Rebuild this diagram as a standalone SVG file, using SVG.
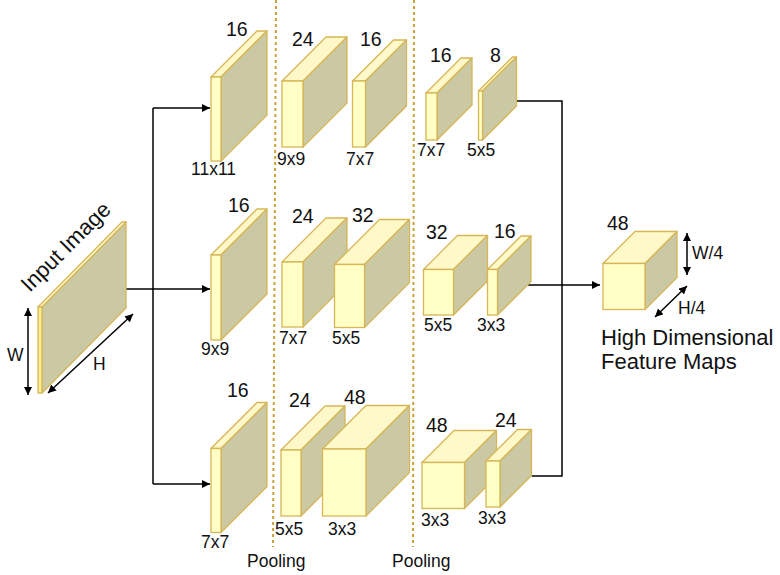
<svg xmlns="http://www.w3.org/2000/svg" width="780" height="575" viewBox="0 0 780 575">
<style>
  .f{fill:#ffffc6;stroke:#d6b656;stroke-width:1.3}
  .t{fill:#fff8c8;stroke:#d6b656;stroke-width:1.3;stroke-linejoin:round}
  .s{fill:#cbc9a3;stroke:#d6b656;stroke-width:1.3;stroke-linejoin:round}
  .n{font-family:"Liberation Sans",Arial,sans-serif;font-size:19.5px;fill:#111}
  .z{font-family:"Liberation Sans",Arial,sans-serif;font-size:17.5px;fill:#111}
  .big{font-family:"Liberation Sans",Arial,sans-serif;font-size:22px;fill:#111}
  .c{fill:none;stroke:#000;stroke-width:1.5}
  .d{fill:none;stroke:#c9a03c;stroke-width:2;stroke-dasharray:3,3}
</style>
<defs>
  <marker id="ah" viewBox="0 0 10 10" refX="10" refY="5" markerWidth="8" markerHeight="8" markerUnits="userSpaceOnUse" orient="auto-start-reverse">
    <path d="M0,0 L10,5 L0,10 z" fill="#000"/>
  </marker>
</defs>
<rect width="780" height="575" fill="#fff"/>

<g id="dividers">
  <line class="d" x1="276" y1="0" x2="273" y2="547"/>
  <line class="d" x1="414" y1="0" x2="413" y2="547"/>
  <text class="z" x="247" y="567">Pooling</text>
  <text class="z" x="392" y="567">Pooling</text>
</g>

<g id="connectors">
  <polyline class="c" points="126,289 153,289"/>
  <polyline class="c" points="153,484 153,108"/>
  <line class="c" x1="153" y1="108" x2="210" y2="108" marker-end="url(#ah)"/>
  <line class="c" x1="153" y1="289" x2="210" y2="289" marker-end="url(#ah)"/>
  <line class="c" x1="153" y1="484" x2="210" y2="484" marker-end="url(#ah)"/>
  <polyline class="c" points="516.5,101 562,101 562,476 531.5,476"/>
  <line class="c" x1="528" y1="285" x2="600" y2="285" marker-end="url(#ah)"/>
  <line class="c" x1="28" y1="308" x2="28" y2="395" marker-start="url(#ah)" marker-end="url(#ah)"/>
  <line class="c" x1="48" y1="393" x2="133" y2="314" marker-start="url(#ah)" marker-end="url(#ah)"/>
  <line class="c" x1="687" y1="233" x2="687" y2="275" marker-start="url(#ah)" marker-end="url(#ah)"/>
  <line class="c" x1="655" y1="317" x2="687" y2="286" marker-start="url(#ah)" marker-end="url(#ah)"/>
</g>

<g id="input-image">
  <polygon class="s" points="42,307 126,222 126,308 42,393"/>
  <polygon class="t" points="38,307 122,222 126,222 42,307"/>
  <rect x="38" y="307" width="4" height="86" fill="#ffec90" stroke="#d6b656" stroke-width="1.3"/>
  <text class="big" text-anchor="middle" transform="translate(66,247) rotate(-45)" x="0" y="7">Input Image</text>
  <text class="z" x="7" y="361">W</text>
  <text class="z" x="93" y="370">H</text>
</g>

<g id="top-1">
  <polygon class="t" points="211,77 257,31 267,31 221,77"/>
  <polygon class="s" points="221,77 267,31 267,115 221,161"/>
  <rect class="f" x="211" y="77" width="10" height="84"/>
  <text class="n" x="226" y="36">16</text>
  <text class="z" x="191" y="175">11x11</text>
</g>
<g id="top-2">
  <polygon class="t" points="282,81 326,37 347,37 303,81"/>
  <polygon class="s" points="303,81 347,37 347,103 303,147"/>
  <rect class="f" x="282" y="81" width="21" height="66"/>
  <text class="n" x="292" y="46">24</text>
  <text class="z" x="277" y="165">9x9</text>
</g>
<g id="top-3">
  <polygon class="t" points="352.5,81 393.5,40 406.5,40 365.5,81"/>
  <polygon class="s" points="365.5,81 406.5,40 406.5,106 365.5,147"/>
  <rect class="f" x="352.5" y="81" width="13" height="66"/>
  <text class="n" x="360" y="46">16</text>
  <text class="z" x="346" y="165">7x7</text>
</g>
<g id="top-4">
  <polygon class="t" points="426,93 461,58 472,58 437,93"/>
  <polygon class="s" points="437,93 472,58 472,105 437,140"/>
  <rect class="f" x="426" y="93" width="11" height="47"/>
  <text class="n" x="430" y="62">16</text>
  <text class="z" x="417" y="156">7x7</text>
</g>
<g id="top-5">
  <polygon class="t" points="478.5,91 512.5,57 516.5,57 482.5,91"/>
  <polygon class="s" points="482.5,91 516.5,57 516.5,106 482.5,140"/>
  <rect class="f" x="478.5" y="91" width="4" height="49"/>
  <text class="n" x="490" y="62">8</text>
  <text class="z" x="467" y="156">5x5</text>
</g>

<g id="mid-1">
  <polygon class="t" points="211,255 257,209 267,209 221,255"/>
  <polygon class="s" points="221,255 267,209 267,294 221,340"/>
  <rect class="f" x="211" y="255" width="10" height="85"/>
  <text class="n" x="228" y="212">16</text>
  <text class="z" x="201" y="355">9x9</text>
</g>
<g id="mid-2">
  <polygon class="t" points="282,262 326,218 347,218 303,262"/>
  <polygon class="s" points="303,262 347,218 347,283 303,327"/>
  <rect class="f" x="282" y="262" width="21" height="65"/>
  <text class="n" x="292" y="223">24</text>
  <text class="z" x="279" y="344">7x7</text>
</g>
<g id="mid-3">
  <polygon class="t" points="334.5,264.5 379.5,219.5 409.5,219.5 364.5,264.5"/>
  <polygon class="s" points="364.5,264.5 409.5,219.5 409.5,282.5 364.5,327.5"/>
  <rect class="f" x="334.5" y="264.5" width="30" height="63"/>
  <text class="n" x="352" y="222">32</text>
  <text class="z" x="332" y="344">5x5</text>
</g>
<g id="mid-4">
  <polygon class="t" points="423.5,269.5 457.5,235.5 487.5,235.5 453.5,269.5"/>
  <polygon class="s" points="453.5,269.5 487.5,235.5 487.5,281 453.5,315"/>
  <rect class="f" x="423.5" y="269.5" width="30" height="45.5"/>
  <text class="n" x="426" y="239">32</text>
  <text class="z" x="424" y="331">5x5</text>
</g>
<g id="mid-5">
  <polygon class="t" points="487.5,269.5 521,236 531,236 497.5,269.5"/>
  <polygon class="s" points="497.5,269.5 531,236 531,281.5 497.5,315"/>
  <rect class="f" x="487.5" y="269.5" width="10" height="45.5"/>
  <text class="n" x="494" y="238">16</text>
  <text class="z" x="477" y="331">3x3</text>
</g>

<g id="bot-1">
  <polygon class="t" points="211,448.5 257,402.5 267,402.5 221,448.5"/>
  <polygon class="s" points="221,448.5 267,402.5 267,486.5 221,532.5"/>
  <rect class="f" x="211" y="448.5" width="10" height="84"/>
  <text class="n" x="227" y="397">16</text>
  <text class="z" x="201" y="548">7x7</text>
</g>
<g id="bot-2">
  <polygon class="t" points="281,450 325,406 345,406 301,450"/>
  <polygon class="s" points="301,450 345,406 345,472 301,516"/>
  <rect class="f" x="281" y="450" width="20" height="66"/>
  <text class="n" x="289" y="407">24</text>
  <text class="z" x="275" y="535">5x5</text>
</g>
<g id="bot-3">
  <polygon class="t" points="322.5,449 366,405.5 409.5,405.5 366,449"/>
  <polygon class="s" points="366,449 409.5,405.5 409.5,472.5 366,516"/>
  <rect class="f" x="322.5" y="449" width="43.5" height="67"/>
  <text class="n" x="344" y="404">48</text>
  <text class="z" x="328" y="535">3x3</text>
</g>
<g id="bot-4">
  <polygon class="t" points="422,462.5 454,430.5 496.5,430.5 464.5,462.5"/>
  <polygon class="s" points="464.5,462.5 496.5,430.5 496.5,476.5 464.5,508.5"/>
  <rect class="f" x="422" y="462.5" width="42.5" height="46"/>
  <text class="n" x="426" y="432">48</text>
  <text class="z" x="421" y="526">3x3</text>
</g>
<g id="bot-5">
  <polygon class="t" points="486,461 517.5,429.5 531.5,429.5 500,461"/>
  <polygon class="s" points="500,461 531.5,429.5 531.5,475.5 500,507"/>
  <rect class="f" x="486" y="461" width="14" height="46"/>
  <text class="n" x="495" y="427">24</text>
  <text class="z" x="478" y="524">3x3</text>
</g>

<g id="output">
  <polygon class="t" points="603,263.5 635,231.5 677,231.5 645,263.5"/>
  <polygon class="s" points="645,263.5 677,231.5 677,277.5 645,309.5"/>
  <rect class="f" x="603" y="263.5" width="42" height="46"/>
  <text class="n" x="607" y="230">48</text>
  <text class="z" x="692" y="259">W/4</text>
  <text class="z" x="678" y="314">H/4</text>
  <text class="big" x="601" y="345">High Dimensional</text>
  <text class="big" x="601" y="369">Feature Maps</text>
</g>
</svg>
